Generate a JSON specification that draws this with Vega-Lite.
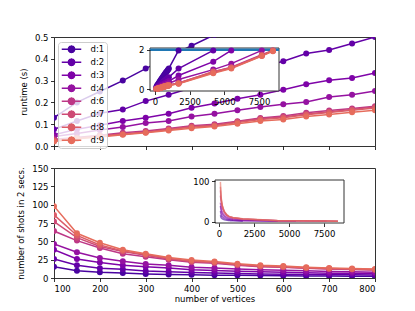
{
  "$schema": "https://vega.github.io/schema/vega-lite/v6.json",
  "padding": {"left": 16, "top": 32, "right": 0, "bottom": 0},
  "config": {
    "font": "DejaVu Sans",
    "view": {"stroke": "#333", "strokeWidth": 1},
    "axis": {"grid": false, "domain": false, "tickColor": "#000", "tickSize": 3.5, "tickWidth": 0.8, "labelFontSize": 8.5, "labelColor": "#000", "labelPadding": 2.5, "titleFontSize": 8.5, "titleFontWeight": "normal", "titleColor": "#000", "titlePadding": 6}
  },
  "datasets": {
    "frameTop": [{"x0": -360, "x1": 8940, "y0": -0.08, "y1": 2.09, "limit": 2}],
    "frameBot": [{"x0": -286, "x1": 8929, "y0": -3.5, "y1": 102.7}],
    "r": [
      {"d":"d:1","n":100,"t":0.13,"s":15.4},{"d":"d:1","n":150,"t":0.2,"s":10},{"d":"d:1","n":200,"t":0.25,"s":8},{"d":"d:1","n":250,"t":0.3,"s":6.7},{"d":"d:1","n":300,"t":0.355,"s":5.6},{"d":"d:1","n":350,"t":0.41,"s":4.9},{"d":"d:1","n":400,"t":0.46,"s":4.3},{"d":"d:1","n":450,"t":0.51,"s":3.9},{"d":"d:1","n":500,"t":0.56,"s":3.6},{"d":"d:1","n":550,"t":0.61,"s":3.3},{"d":"d:1","n":600,"t":0.66,"s":3.0},{"d":"d:1","n":650,"t":0.71,"s":2.8},{"d":"d:1","n":700,"t":0.76,"s":2.6},{"d":"d:1","n":750,"t":0.81,"s":2.5},{"d":"d:1","n":800,"t":0.86,"s":2.3},{"d":"d:1","n":850,"t":0.91,"s":2.2},{"d":"d:1","n":900,"t":0.96,"s":2.1},{"d":"d:1","n":950,"t":1.01,"s":2.0},{"d":"d:1","n":1000,"t":1.06,"s":1.9},{"d":"d:1","n":1700,"t":1.97,"s":1.02},
      {"d":"d:2","n":100,"t":0.077,"s":26},{"d":"d:2","n":150,"t":0.115,"s":17.4},{"d":"d:2","n":200,"t":0.15,"s":13.3},{"d":"d:2","n":250,"t":0.167,"s":12},{"d":"d:2","n":300,"t":0.206,"s":9.7},{"d":"d:2","n":350,"t":0.235,"s":8.5},{"d":"d:2","n":400,"t":0.267,"s":7.5},{"d":"d:2","n":450,"t":0.3,"s":6.7},{"d":"d:2","n":500,"t":0.33,"s":6.1},{"d":"d:2","n":550,"t":0.36,"s":5.6},{"d":"d:2","n":600,"t":0.389,"s":5.1},{"d":"d:2","n":650,"t":0.424,"s":4.7},{"d":"d:2","n":700,"t":0.44,"s":4.5},{"d":"d:2","n":750,"t":0.47,"s":4.3},{"d":"d:2","n":800,"t":0.5,"s":4.0},{"d":"d:2","n":850,"t":0.53,"s":3.8},{"d":"d:2","n":900,"t":0.56,"s":3.6},{"d":"d:2","n":950,"t":0.59,"s":3.4},{"d":"d:2","n":1000,"t":0.62,"s":3.2},{"d":"d:2","n":1700,"t":1.05,"s":1.9},{"d":"d:2","n":4200,"t":1.97,"s":1.02},
      {"d":"d:3","n":100,"t":0.052,"s":38.5},{"d":"d:3","n":150,"t":0.077,"s":26},{"d":"d:3","n":200,"t":0.095,"s":21.1},{"d":"d:3","n":250,"t":0.115,"s":17.4},{"d":"d:3","n":300,"t":0.13,"s":15.4},{"d":"d:3","n":350,"t":0.148,"s":13.5},{"d":"d:3","n":400,"t":0.175,"s":11.4},{"d":"d:3","n":450,"t":0.195,"s":10.3},{"d":"d:3","n":500,"t":0.217,"s":9.2},{"d":"d:3","n":550,"t":0.235,"s":8.5},{"d":"d:3","n":600,"t":0.258,"s":7.8},{"d":"d:3","n":650,"t":0.283,"s":7.1},{"d":"d:3","n":700,"t":0.302,"s":6.6},{"d":"d:3","n":750,"t":0.312,"s":6.4},{"d":"d:3","n":800,"t":0.335,"s":6.0},{"d":"d:3","n":850,"t":0.355,"s":5.6},{"d":"d:3","n":900,"t":0.375,"s":5.3},{"d":"d:3","n":950,"t":0.395,"s":5.1},{"d":"d:3","n":1000,"t":0.415,"s":4.8},{"d":"d:3","n":1700,"t":0.7,"s":2.86},{"d":"d:3","n":4200,"t":1.4,"s":1.43},{"d":"d:3","n":5500,"t":1.97,"s":1.02},
      {"d":"d:4","n":100,"t":0.043,"s":46.5},{"d":"d:4","n":150,"t":0.057,"s":35.1},{"d":"d:4","n":200,"t":0.073,"s":27.4},{"d":"d:4","n":250,"t":0.087,"s":23},{"d":"d:4","n":300,"t":0.105,"s":19},{"d":"d:4","n":350,"t":0.115,"s":17.4},{"d":"d:4","n":400,"t":0.135,"s":14.8},{"d":"d:4","n":450,"t":0.148,"s":13.5},{"d":"d:4","n":500,"t":0.164,"s":12.2},{"d":"d:4","n":550,"t":0.179,"s":11.2},{"d":"d:4","n":600,"t":0.191,"s":10.5},{"d":"d:4","n":650,"t":0.202,"s":9.9},{"d":"d:4","n":700,"t":0.225,"s":8.9},{"d":"d:4","n":750,"t":0.235,"s":8.5},{"d":"d:4","n":800,"t":0.252,"s":7.9},{"d":"d:4","n":850,"t":0.265,"s":7.5},{"d":"d:4","n":900,"t":0.28,"s":7.1},{"d":"d:4","n":950,"t":0.295,"s":6.8},{"d":"d:4","n":1000,"t":0.31,"s":6.5},{"d":"d:4","n":1700,"t":0.5,"s":4.0},{"d":"d:4","n":4200,"t":1.0,"s":2.0},{"d":"d:4","n":5500,"t":1.3,"s":1.54},{"d":"d:4","n":7700,"t":1.97,"s":1.02},
      {"d":"d:6","n":100,"t":0.0313,"s":64},{"d":"d:6","n":150,"t":0.0392,"s":51},{"d":"d:6","n":200,"t":0.0488,"s":41},{"d":"d:6","n":250,"t":0.0606,"s":33},{"d":"d:6","n":300,"t":0.069,"s":29},{"d":"d:6","n":350,"t":0.08,"s":25},{"d":"d:6","n":400,"t":0.093,"s":21.5},{"d":"d:6","n":450,"t":0.1,"s":20},{"d":"d:6","n":500,"t":0.114,"s":17.5},{"d":"d:6","n":550,"t":0.129,"s":15.5},{"d":"d:6","n":600,"t":0.138,"s":14.5},{"d":"d:6","n":650,"t":0.152,"s":13.2},{"d":"d:6","n":700,"t":0.163,"s":12.3},{"d":"d:6","n":750,"t":0.172,"s":11.6},{"d":"d:6","n":800,"t":0.182,"s":11},{"d":"d:6","n":850,"t":0.19,"s":10.5},{"d":"d:6","n":900,"t":0.2,"s":10},{"d":"d:6","n":950,"t":0.21,"s":9.5},{"d":"d:6","n":1000,"t":0.22,"s":9.1},{"d":"d:6","n":1700,"t":0.32,"s":6.25},{"d":"d:6","n":4200,"t":0.88,"s":2.27},{"d":"d:6","n":5500,"t":1.12,"s":1.79},{"d":"d:6","n":7700,"t":1.75,"s":1.14},{"d":"d:6","n":8500,"t":1.97,"s":1.02},
      {"d":"d:7","n":100,"t":0.026,"s":77},{"d":"d:7","n":150,"t":0.0364,"s":55},{"d":"d:7","n":200,"t":0.0465,"s":43},{"d":"d:7","n":250,"t":0.0556,"s":36},{"d":"d:7","n":300,"t":0.0645,"s":31},{"d":"d:7","n":350,"t":0.0769,"s":26},{"d":"d:7","n":400,"t":0.0889,"s":22.5},{"d":"d:7","n":450,"t":0.0952,"s":21},{"d":"d:7","n":500,"t":0.111,"s":18},{"d":"d:7","n":550,"t":0.125,"s":16},{"d":"d:7","n":600,"t":0.133,"s":15},{"d":"d:7","n":650,"t":0.147,"s":13.6},{"d":"d:7","n":700,"t":0.157,"s":12.7},{"d":"d:7","n":750,"t":0.168,"s":11.9},{"d":"d:7","n":800,"t":0.179,"s":11.2},{"d":"d:7","n":850,"t":0.187,"s":10.7},{"d":"d:7","n":900,"t":0.195,"s":10.3},{"d":"d:7","n":950,"t":0.205,"s":9.76},{"d":"d:7","n":1000,"t":0.215,"s":9.3},{"d":"d:7","n":1700,"t":0.3,"s":6.67},{"d":"d:7","n":4200,"t":0.85,"s":2.35},{"d":"d:7","n":5500,"t":1.08,"s":1.85},{"d":"d:7","n":7700,"t":1.7,"s":1.18},{"d":"d:7","n":8500,"t":1.95,"s":1.03},
      {"d":"d:8","n":100,"t":0.0233,"s":86},{"d":"d:8","n":150,"t":0.0345,"s":58},{"d":"d:8","n":200,"t":0.0444,"s":45},{"d":"d:8","n":250,"t":0.0541,"s":37},{"d":"d:8","n":300,"t":0.0625,"s":32},{"d":"d:8","n":350,"t":0.0741,"s":27},{"d":"d:8","n":400,"t":0.087,"s":23},{"d":"d:8","n":450,"t":0.093,"s":21.5},{"d":"d:8","n":500,"t":0.108,"s":18.5},{"d":"d:8","n":550,"t":0.121,"s":16.5},{"d":"d:8","n":600,"t":0.129,"s":15.5},{"d":"d:8","n":650,"t":0.143,"s":14},{"d":"d:8","n":700,"t":0.154,"s":13},{"d":"d:8","n":750,"t":0.164,"s":12.2},{"d":"d:8","n":800,"t":0.174,"s":11.5},{"d":"d:8","n":850,"t":0.182,"s":11},{"d":"d:8","n":900,"t":0.19,"s":10.5},{"d":"d:8","n":950,"t":0.2,"s":10},{"d":"d:8","n":1000,"t":0.21,"s":9.5},{"d":"d:8","n":1700,"t":0.31,"s":6.45},{"d":"d:8","n":4200,"t":0.9,"s":2.22},{"d":"d:8","n":5500,"t":1.1,"s":1.82},{"d":"d:8","n":7700,"t":1.72,"s":1.16},{"d":"d:8","n":8500,"t":1.97,"s":1.02},
      {"d":"d:9","n":100,"t":0.0204,"s":98},{"d":"d:9","n":150,"t":0.0328,"s":61},{"d":"d:9","n":200,"t":0.0417,"s":48},{"d":"d:9","n":250,"t":0.0519,"s":38.5},{"d":"d:9","n":300,"t":0.0606,"s":33},{"d":"d:9","n":350,"t":0.0714,"s":28},{"d":"d:9","n":400,"t":0.0816,"s":24.5},{"d":"d:9","n":450,"t":0.0889,"s":22.5},{"d":"d:9","n":500,"t":0.102,"s":19.6},{"d":"d:9","n":550,"t":0.115,"s":17.4},{"d":"d:9","n":600,"t":0.122,"s":16.4},{"d":"d:9","n":650,"t":0.135,"s":14.8},{"d":"d:9","n":700,"t":0.145,"s":13.8},{"d":"d:9","n":750,"t":0.155,"s":12.9},{"d":"d:9","n":800,"t":0.164,"s":12.2},{"d":"d:9","n":850,"t":0.172,"s":11.6},{"d":"d:9","n":900,"t":0.18,"s":11.1},{"d":"d:9","n":950,"t":0.19,"s":10.5},{"d":"d:9","n":1000,"t":0.2,"s":10},{"d":"d:9","n":1700,"t":0.29,"s":6.9},{"d":"d:9","n":4200,"t":0.82,"s":2.44},{"d":"d:9","n":5500,"t":1.05,"s":1.9},{"d":"d:9","n":7700,"t":1.68,"s":1.19},{"d":"d:9","n":8500,"t":1.93,"s":1.04}
    ]
  },
  "spacing": 12,
  "resolve": {"scale": {"color": "shared"}, "legend": {"color": "shared"}},
  "vconcat": [
    {
      "width": 321, "height": 109,
      "resolve": {"scale": {"x": "independent", "y": "independent"}, "axis": {"x": "independent", "y": "independent"}},
      "layer": [
        {
          "data": {"name": "r"},
          "encoding": {
            "x": {"field": "n", "type": "quantitative", "scale": {"domain": [100, 800], "nice": false, "zero": false}, "axis": {"labels": false, "title": null, "values": [100, 200, 300, 400, 500, 600, 700, 800]}},
            "y": {"field": "t", "type": "quantitative", "scale": {"domain": [0, 0.5], "nice": false}, "axis": {"values": [0, 0.1, 0.2, 0.3, 0.4, 0.5], "format": ".1f", "title": "runtime (s)"}}
          },
          "layer": [
            {"mark": {"type": "line", "clip": true, "strokeWidth": 1.5},
             "encoding": {"color": {"field": "d", "type": "nominal",
               "scale": {"domain": ["d:1","d:2","d:3","d:4","d:6","d:7","d:8","d:9"], "range": ["#4903a0","#6300a7","#7e03a8","#9512a1","#bd3786","#cd4a76","#db5c68","#e66c5c"]},
               "legend": {"title": null, "orient": "none", "legendX": 4, "legendY": 5,
                 "symbolType": "M-1.95,0L1.95,0M0,-0.8L0,0.8M0.64,0L0.554,0.32L0.32,0.554L0,0.64L-0.32,0.554L-0.554,0.32L-0.64,0L-0.554,-0.32L-0.32,-0.554L0,-0.64L0.32,-0.554L0.554,-0.32Z",
                 "symbolSize": 100, "symbolStrokeWidth": 1.5, "symbolOffset": 5.5,
                 "labelFontSize": 8.5, "labelOffset": 13, "clipHeight": 10.6, "rowPadding": 2, "padding": 2,
                 "strokeColor": "#cccccc", "fillColor": "rgba(255,255,255,0.8)", "cornerRadius": 3,
                 "encode": {"symbols": {"update": {"fill": {"scale": "color", "field": "value"}, "stroke": {"scale": "color", "field": "value"}, "opacity": {"value": 1}}}}}}}},
            {"mark": {"type": "circle", "clip": true, "size": 36, "opacity": 1},
             "encoding": {"color": {"field": "d", "type": "nominal", "legend": null}}}
          ]
        },
        {
          "layer": [
            {"data": {"name": "frameTop"}, "mark": {"type": "rect", "fill": "white", "stroke": "#333", "strokeWidth": 1},
             "encoding": {
               "x": {"field": "x0", "type": "quantitative", "scale": {"domain": [-360, 8940], "range": [96, 225], "nice": false, "zero": false}, "axis": {"orient": "bottom", "offset": -55, "values": [0, 2500, 5000, 7500], "format": "d", "title": null, "zindex": 1}},
               "x2": {"field": "x1"},
               "y": {"field": "y0", "type": "quantitative", "scale": {"domain": [-0.08, 2.09], "range": [54, 11], "nice": false, "zero": false}, "axis": {"orient": "left", "offset": -96, "values": [0, 2], "format": "d", "title": null, "zindex": 1}},
               "y2": {"field": "y1"}}},
            {"data": {"name": "frameTop"}, "mark": {"type": "rule", "color": "#1f77b4", "strokeWidth": 2.5},
             "encoding": {
               "x": {"field": "x0", "type": "quantitative"},
               "x2": {"field": "x1"},
               "y": {"field": "limit", "type": "quantitative"}}},
            {"data": {"name": "r"}, "mark": {"type": "line", "strokeWidth": 1.5},
             "encoding": {"x": {"field": "n", "type": "quantitative"}, "y": {"field": "t", "type": "quantitative"}, "color": {"field": "d", "type": "nominal", "legend": null}}},
            {"data": {"name": "r"}, "mark": {"type": "circle", "size": 36, "opacity": 1},
             "encoding": {"x": {"field": "n", "type": "quantitative"}, "y": {"field": "t", "type": "quantitative"}, "color": {"field": "d", "type": "nominal", "legend": null}}}
          ]
        }
      ]
    },
    {
      "width": 321, "height": 110,
      "resolve": {"scale": {"x": "independent", "y": "independent"}, "axis": {"x": "independent", "y": "independent"}},
      "layer": [
        {
          "data": {"name": "r"},
          "encoding": {
            "x": {"field": "n", "type": "quantitative", "scale": {"domain": [100, 800], "nice": false, "zero": false}, "axis": {"title": "number of vertices", "titlePadding": 1.5, "values": [100, 200, 300, 400, 500, 600, 700, 800]}},
            "y": {"field": "s", "type": "quantitative", "scale": {"domain": [0, 150], "nice": false}, "axis": {"values": [0, 25, 50, 75, 100, 125, 150], "title": "number of shots in 2 secs."}}
          },
          "layer": [
            {"mark": {"type": "line", "clip": true, "strokeWidth": 1.5},
             "encoding": {"color": {"field": "d", "type": "nominal", "legend": null}}},
            {"mark": {"type": "circle", "clip": true, "size": 36, "opacity": 1},
             "encoding": {"color": {"field": "d", "type": "nominal", "legend": null}}}
          ]
        },
        {
          "layer": [
            {"data": {"name": "frameBot"}, "mark": {"type": "rect", "fill": "white", "stroke": "#333", "strokeWidth": 1},
             "encoding": {
               "x": {"field": "x0", "type": "quantitative", "scale": {"domain": [-286, 8929], "range": [161, 290], "nice": false, "zero": false}, "axis": {"orient": "bottom", "offset": -55, "values": [0, 2500, 5000, 7500], "format": "d", "title": null, "zindex": 1}},
               "x2": {"field": "x1"},
               "y": {"field": "y0", "type": "quantitative", "scale": {"domain": [-3.5, 102.7], "range": [55, 12], "nice": false, "zero": false}, "axis": {"orient": "left", "offset": -161, "values": [0, 100], "format": "d", "title": null, "zindex": 1}},
               "y2": {"field": "y1"}}},
            {"data": {"name": "r"}, "mark": {"type": "line", "strokeWidth": 1.5, "opacity": 0.6},
             "encoding": {"x": {"field": "n", "type": "quantitative"}, "y": {"field": "s", "type": "quantitative"}, "color": {"field": "d", "type": "nominal", "legend": null}}}
          ]
        }
      ]
    }
  ]
}
